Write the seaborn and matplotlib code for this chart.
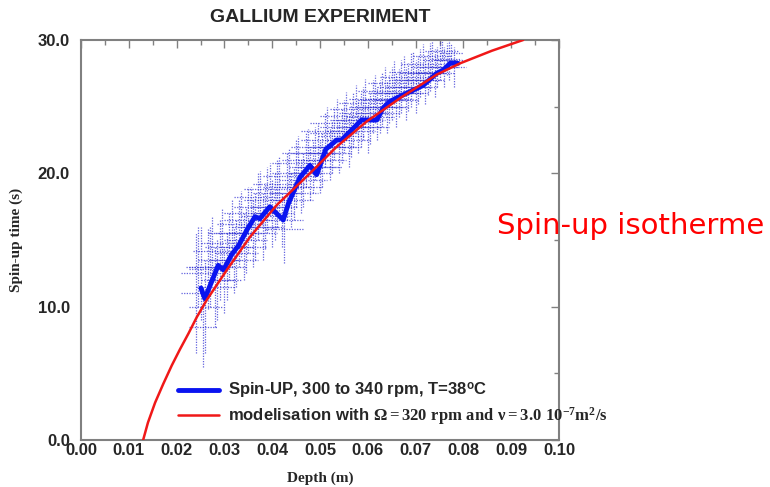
import numpy as np
import pandas as pd
import matplotlib
matplotlib.use("Agg")
import matplotlib.pyplot as plt
import seaborn as sns
from matplotlib.ticker import MultipleLocator, FormatStrFormatter

# ---- data ----
model_depth = [0.0130, 0.0140, 0.0155, 0.0172, 0.0190, 0.0207, 0.0225, 0.0242, 0.0263,
               0.0305, 0.0354, 0.0409, 0.0479, 0.0535, 0.0598, 0.0670, 0.0744, 0.0793,
               0.0860, 0.0925]
model_time = [0.0, 1.3, 2.8, 4.2, 5.6, 6.8, 8.0, 9.2, 10.5,
              12.75, 15.25, 17.6, 20.0, 22.0, 23.9, 25.7, 27.4, 28.25,
              29.2, 30.0]

exp_depth = [0.0251, 0.0259, 0.0287, 0.0298, 0.0315, 0.0330, 0.0347, 0.0364, 0.0374,
             0.0395, 0.0423, 0.0434, 0.0458, 0.0479, 0.0493, 0.0512, 0.0535, 0.0545,
             0.0587, 0.0619, 0.0632, 0.0646, 0.0681, 0.0716, 0.0744, 0.0758, 0.0772, 0.0789]
exp_time = [11.4, 10.6, 13.1, 12.75, 13.9, 14.6, 15.75, 16.75, 16.6,
            17.5, 16.5, 17.75, 19.7, 20.6, 19.9, 21.8, 22.5, 22.5,
            24.0, 24.0, 24.9, 25.4, 26.0, 26.6, 27.5, 27.75, 28.25, 28.25]

# error-bar crosses (cloud of measurements), first group
eb_depth = [0.0240, 0.0250, 0.0260, 0.0270, 0.0280, 0.0290, 0.0300, 0.0310, 0.0320, 0.0330,
            0.0340, 0.0350, 0.0360, 0.0370, 0.0380, 0.0390, 0.0400, 0.0410, 0.0420, 0.0430,
            0.0440, 0.0450, 0.0460, 0.0470, 0.0480, 0.0490, 0.0500, 0.0510, 0.0520, 0.0530,
            0.0540, 0.0550, 0.0560, 0.0570, 0.0580, 0.0590, 0.0600, 0.0610, 0.0620, 0.0630,
            0.0640, 0.0650, 0.0660, 0.0670, 0.0680, 0.0690, 0.0700, 0.0710, 0.0720, 0.0730,
            0.0740, 0.0750, 0.0760, 0.0770, 0.0780]
eb_time = [11.0, 12.5, 10.0, 13.0, 11.5, 13.5, 12.0, 14.5, 13.5, 15.5,
           14.5, 16.5, 15.5, 17.5, 16.0, 18.0, 17.0, 18.5, 16.5, 19.0,
           18.0, 20.0, 19.0, 21.0, 20.0, 21.5, 20.5, 22.5, 21.5, 23.0,
           22.0, 23.5, 22.5, 24.0, 23.5, 24.5, 23.5, 25.0, 24.5, 25.5,
           25.0, 26.0, 25.5, 26.5, 26.0, 27.0, 26.5, 27.5, 27.0, 28.0,
           27.5, 28.5, 28.0, 28.5, 28.0]
eb_xerr = [0.0030, 0.0040, 0.0035, 0.0045, 0.0040, 0.0045, 0.0035, 0.0050, 0.0050, 0.0050,
           0.0050, 0.0050, 0.0050, 0.0050, 0.0045, 0.0050, 0.0045, 0.0050, 0.0045, 0.0050,
           0.0045, 0.0050, 0.0045, 0.0050, 0.0045, 0.0050, 0.0045, 0.0050, 0.0045, 0.0050,
           0.0045, 0.0050, 0.0045, 0.0050, 0.0045, 0.0050, 0.0045, 0.0050, 0.0045, 0.0050,
           0.0045, 0.0050, 0.0045, 0.0050, 0.0045, 0.0045, 0.0045, 0.0045, 0.0040, 0.0040,
           0.0040, 0.0035, 0.0030, 0.0030, 0.0025]
eb_yerr = [4.5, 3.5, 3.5, 3.0, 3.0, 3.0, 2.5, 2.5, 2.5, 2.5,
           2.5, 2.5, 2.5, 2.5, 2.5, 2.5, 2.5, 2.5, 2.0, 2.5,
           2.0, 2.5, 2.0, 2.0, 2.0, 2.0, 2.0, 2.0, 2.0, 2.0,
           2.0, 2.0, 2.0, 2.0, 2.0, 2.0, 2.0, 2.0, 2.0, 2.0,
           2.0, 2.0, 2.0, 2.0, 2.0, 2.0, 2.0, 1.8, 1.8, 1.8,
           1.8, 1.5, 1.5, 1.5, 1.5]

# second group of crosses, mostly above-left of the mean curve
eb2_depth = [0.0245, 0.0255, 0.0265, 0.0275, 0.0285, 0.0295, 0.0305, 0.0315, 0.0325, 0.0335,
             0.0345, 0.0355, 0.0365, 0.0375, 0.0385, 0.0395, 0.0405, 0.0415, 0.0425, 0.0435,
             0.0445, 0.0455, 0.0465, 0.0475, 0.0485, 0.0495, 0.0505, 0.0515, 0.0525, 0.0535,
             0.0545, 0.0555, 0.0565, 0.0575, 0.0585, 0.0595, 0.0605, 0.0615, 0.0625, 0.0635,
             0.0645, 0.0655, 0.0665, 0.0675, 0.0685, 0.0695, 0.0705, 0.0715, 0.0725, 0.0735,
             0.0745, 0.0755, 0.0765, 0.0775]
eb2_time = [13.0, 8.5, 12.8, 14.2, 12.0, 14.8, 13.0, 15.5, 14.0, 16.2,
            15.0, 17.0, 16.0, 18.2, 16.8, 18.8, 17.5, 19.2, 15.8, 19.8,
            18.5, 20.8, 19.5, 21.5, 20.5, 22.0, 21.0, 23.2, 22.0, 23.8,
            22.8, 24.3, 23.2, 24.8, 24.0, 25.3, 24.2, 25.6, 25.0, 26.2,
            25.6, 26.8, 26.0, 27.2, 26.5, 27.6, 27.0, 28.2, 27.5, 28.8,
            28.0, 29.2, 28.6, 29.0]
eb2_xerr = [0.0025, 0.0030, 0.0040, 0.0040, 0.0035, 0.0045, 0.0040, 0.0050, 0.0045, 0.0050,
            0.0045, 0.0055, 0.0050, 0.0055, 0.0050, 0.0055, 0.0050, 0.0055, 0.0040, 0.0055,
            0.0050, 0.0055, 0.0050, 0.0055, 0.0050, 0.0055, 0.0050, 0.0055, 0.0050, 0.0055,
            0.0050, 0.0055, 0.0050, 0.0055, 0.0050, 0.0055, 0.0050, 0.0055, 0.0050, 0.0055,
            0.0050, 0.0055, 0.0050, 0.0050, 0.0045, 0.0050, 0.0045, 0.0045, 0.0040, 0.0040,
            0.0035, 0.0035, 0.0030, 0.0025]
eb2_yerr = [3.0, 3.0, 3.0, 2.5, 3.0, 2.5, 2.5, 2.5, 2.5, 2.5,
            2.5, 2.0, 2.5, 2.0, 2.5, 2.0, 2.5, 2.0, 2.5, 2.0,
            2.0, 2.0, 2.0, 1.8, 2.0, 1.8, 2.0, 1.8, 2.0, 1.8,
            2.0, 1.8, 2.0, 1.8, 2.0, 1.8, 2.0, 1.8, 2.0, 1.8,
            1.8, 1.6, 1.8, 1.6, 1.8, 1.6, 1.8, 1.5, 1.6, 1.2,
            1.5, 0.8, 1.2, 0.8]

x_ticks = [0.00, 0.01, 0.02, 0.03, 0.04, 0.05, 0.06, 0.07, 0.08, 0.09, 0.10]
y_ticks = [0.0, 10.0, 20.0, 30.0]

title = "GALLIUM EXPERIMENT"
exp_label = "Spin-UP, 300 to 340 rpm, T=38$^{\\mathsf{o}}$C"
model_label = ("modelisation with "
               "$\\mathrm{\\Omega{=}320\\ rpm\\ and\\ \\nu{=}3.0\\ 10^{-7}m^{2}/s}$")

# ---- plot ----
sns.set_theme(style="white")
plt.rcParams['font.family'] = ['Liberation Sans', 'DejaVu Sans']
plt.rcParams['mathtext.fontset'] = 'custom'
plt.rcParams['mathtext.rm'] = 'Liberation Serif:bold'
plt.rcParams['mathtext.it'] = 'Liberation Serif:bold'
plt.rcParams['mathtext.bf'] = 'Liberation Serif:bold'
plt.rcParams['mathtext.sf'] = 'Liberation Sans:bold'

fig = plt.figure(figsize=(7.7, 4.87), dpi=100)
ax = fig.add_axes([81 / 770, 47 / 487, (559 - 81) / 770, 400 / 487])

dot = (0, (1, 1.1))
for dd, tt, xe, ye in [(eb_depth, eb_time, eb_xerr, eb_yerr),
                       (eb2_depth, eb2_time, eb2_xerr, eb2_yerr)]:
    cont = ax.errorbar(dd, tt, xerr=xe, yerr=ye, fmt='none',
                       ecolor='#2020d0', elinewidth=0.9, capsize=0, alpha=0.7,
                       zorder=1)
    for c in cont.lines[2]:
        c.set_linestyle(dot)

df_exp = pd.DataFrame({"depth": exp_depth, "time": exp_time})
df_mod = pd.DataFrame({"depth": model_depth, "time": model_time})

sns.lineplot(data=df_exp, x="depth", y="time", ax=ax, color='#0a14f0', lw=3.5,
             sort=False, estimator=None, label=exp_label, zorder=3)
sns.lineplot(data=df_mod, x="depth", y="time", ax=ax, color='#f01818', lw=1.8,
             sort=False, estimator=None, label=model_label, zorder=4)

ax.set_xlim(0, 0.10)
ax.set_ylim(0, 30)
ax.set_xticks(x_ticks)
ax.set_yticks(y_ticks)
ax.xaxis.set_major_formatter(FormatStrFormatter('%.2f'))
ax.yaxis.set_major_formatter(FormatStrFormatter('%.1f'))
ax.xaxis.set_minor_locator(MultipleLocator(0.005))
ax.yaxis.set_minor_locator(MultipleLocator(5))
ax.tick_params(which='both', direction='in', top=True, right=True,
               color='#808080', width=1.0)
ax.tick_params(which='major', length=6, labelsize=12)
ax.tick_params(axis='x', which='major', pad=2)
ax.tick_params(axis='y', which='major', pad=8)
ax.tick_params(which='minor', length=3.5)
for lab in ax.get_xticklabels() + ax.get_yticklabels():
    lab.set_fontweight('bold')
for s in ax.spines.values():
    s.set_color('#808080')
    s.set_linewidth(1.5)

ax.set_xlabel("Depth (m)", family=['Liberation Serif'], fontweight='bold', fontsize=11)
ax.set_ylabel("Spin-up time (s)", family=['Liberation Serif'], fontweight='bold', fontsize=11)
ax.xaxis.set_label_coords(0.5, -(472 - 440) / 400, transform=ax.transAxes)
ax.yaxis.set_label_coords(-(81 - 23) / 478, 0.5, transform=ax.transAxes)

fig.text(320 / 770, 1 - 17 / 487, title, ha='center', va='center',
         fontsize=14, fontweight='bold')

leg = ax.legend(loc='center left', bbox_to_anchor=(171 / 770, 1 - 404 / 487),
                bbox_transform=fig.transFigure, frameon=False, handlelength=2.5,
                handletextpad=0.55, labelspacing=0.2, borderaxespad=0,
                prop={'weight': 'bold', 'size': 12})

fig.text(497 / 770, 1 - 226 / 487, "Spin-up isotherme", ha='left', va='center',
         fontsize=21, color='#ff0000', family=['DejaVu Sans'])

fig.savefig("out.png", dpi=100)
